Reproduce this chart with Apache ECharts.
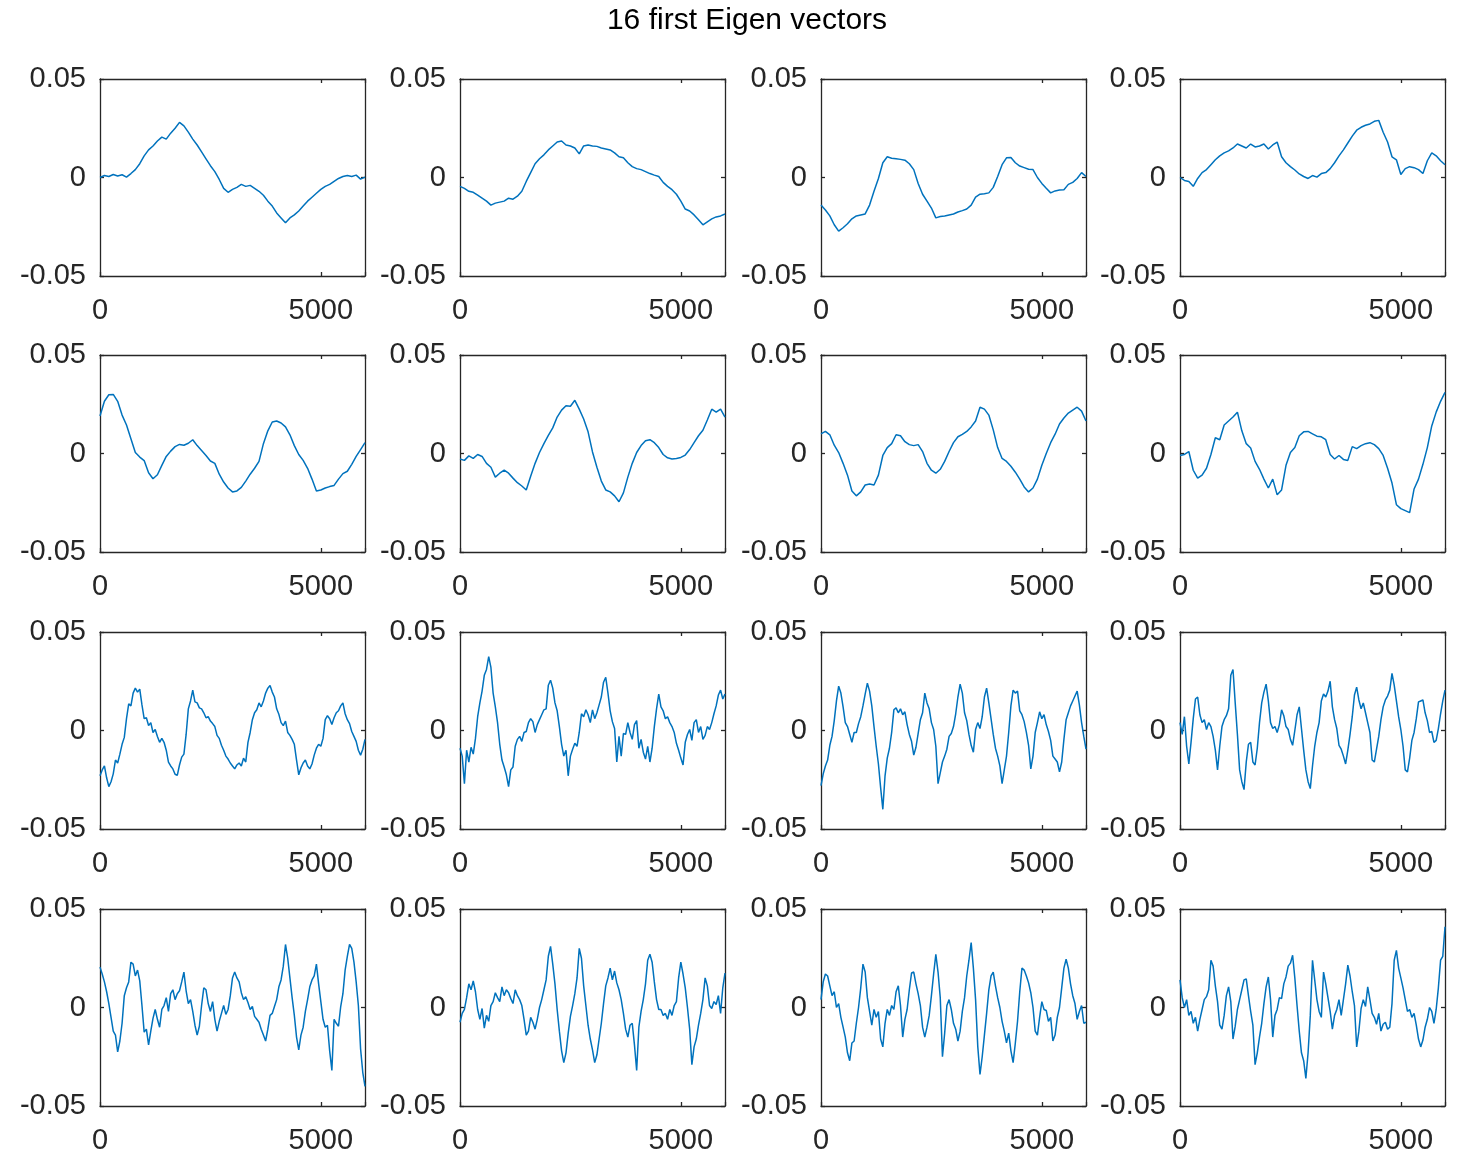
<!DOCTYPE html>
<html>
<head>
<meta charset="utf-8">
<title>16 first Eigen vectors</title>
<script src="https://cdn.jsdelivr.net/npm/echarts@6/dist/echarts.min.js"></script>
<style>
  html, body { margin: 0; padding: 0; background: #ffffff; }
  #chart { width: 1458px; height: 1155px; }
</style>
</head>
<body>
<div id="chart"></div>
<script>
// Axis ranges and tick labels shared by all panels
const xMax = 6000;
const xTickValues = [0, 5000];
const yTickValues = [-0.05, 0, 0.05];

// Eigen vectors 1-8, sampled every 100 samples (0..6000)
const eig1 = [
  0.0000, 0.0010, 0.0005, 0.0015, 0.0008, 0.0014, 0.0002, 0.0020, 0.0040, 0.0070,
  0.0110, 0.0140, 0.0160, 0.0185, 0.0205, 0.0195, 0.0225, 0.0250, 0.0280, 0.0262,
  0.0230, 0.0195, 0.0165, 0.0130, 0.0095, 0.0060, 0.0030, -0.0010, -0.0055, -0.0075,
  -0.0060, -0.0050, -0.0035, -0.0045, -0.0040, -0.0055, -0.0070, -0.0090, -0.0120, -0.0145,
  -0.0180, -0.0205, -0.0230, -0.0205, -0.0190, -0.0170, -0.0145, -0.0120, -0.0100, -0.0080,
  -0.0060, -0.0045, -0.0035, -0.0020, -0.0005, 0.0005, 0.0010, 0.0005, 0.0012, -0.0008,
  0.0002
];
const eig2 = [
  -0.0045, -0.0055, -0.0070, -0.0075, -0.0090, -0.0105, -0.0120, -0.0140, -0.0130, -0.0125,
  -0.0120, -0.0105, -0.0110, -0.0095, -0.0070, -0.0020, 0.0025, 0.0070, 0.0095, 0.0115,
  0.0140, 0.0160, 0.0180, 0.0185, 0.0165, 0.0160, 0.0150, 0.0120, 0.0160, 0.0165,
  0.0160, 0.0158, 0.0150, 0.0145, 0.0140, 0.0125, 0.0105, 0.0100, 0.0075, 0.0055,
  0.0045, 0.0040, 0.0030, 0.0020, 0.0012, 0.0005, -0.0025, -0.0045, -0.0062, -0.0085,
  -0.0120, -0.0160, -0.0170, -0.0190, -0.0215, -0.0240, -0.0225, -0.0210, -0.0200, -0.0195,
  -0.0185
];
const eig3 = [
  -0.0140, -0.0165, -0.0195, -0.0240, -0.0272, -0.0255, -0.0235, -0.0210, -0.0195, -0.0190,
  -0.0185, -0.0140, -0.0070, -0.0005, 0.0075, 0.0105, 0.0098, 0.0095, 0.0092, 0.0088,
  0.0070, 0.0040, -0.0030, -0.0085, -0.0120, -0.0155, -0.0205, -0.0198, -0.0195, -0.0190,
  -0.0185, -0.0175, -0.0168, -0.0160, -0.0140, -0.0100, -0.0085, -0.0082, -0.0078, -0.0050,
  0.0005, 0.0065, 0.0100, 0.0102, 0.0075, 0.0058, 0.0050, 0.0042, 0.0040, 0.0000,
  -0.0030, -0.0055, -0.0078, -0.0068, -0.0064, -0.0062, -0.0035, -0.0025, -0.0005, 0.0025,
  0.0005
];
const eig4 = [
  0.0000, -0.0015, -0.0020, -0.0045, -0.0005, 0.0025, 0.0040, 0.0065, 0.0090, 0.0110,
  0.0125, 0.0135, 0.0150, 0.0170, 0.0160, 0.0150, 0.0170, 0.0155, 0.0160, 0.0170,
  0.0145, 0.0165, 0.0180, 0.0105, 0.0075, 0.0055, 0.0038, 0.0018, 0.0005, -0.0005,
  0.0010, 0.0002, 0.0020, 0.0025, 0.0045, 0.0075, 0.0110, 0.0140, 0.0175, 0.0210,
  0.0240, 0.0255, 0.0265, 0.0272, 0.0285, 0.0290, 0.0230, 0.0180, 0.0105, 0.0090,
  0.0015, 0.0045, 0.0055, 0.0050, 0.0040, 0.0020, 0.0085, 0.0125, 0.0110, 0.0085,
  0.0065
];
const eig5 = [
  0.0190, 0.0265, 0.0298, 0.0300, 0.0265, 0.0195, 0.0145, 0.0075, 0.0005, -0.0018,
  -0.0036, -0.0098, -0.0128, -0.0108, -0.0060, -0.0015, 0.0012, 0.0035, 0.0046, 0.0042,
  0.0052, 0.0070, 0.0040, 0.0015, -0.0010, -0.0038, -0.0050, -0.0105, -0.0145, -0.0175,
  -0.0195, -0.0190, -0.0172, -0.0140, -0.0105, -0.0075, -0.0040, 0.0050, 0.0115, 0.0160,
  0.0165, 0.0155, 0.0135, 0.0095, 0.0040, -0.0005, -0.0035, -0.0075, -0.0130, -0.0190,
  -0.0185, -0.0175, -0.0168, -0.0162, -0.0130, -0.0102, -0.0090, -0.0055, -0.0015, 0.0020,
  0.0055
];
const eig6 = [
  -0.0028, -0.0035, -0.0012, -0.0025, -0.0005, -0.0015, -0.0050, -0.0070, -0.0120, -0.0100,
  -0.0085, -0.0100, -0.0125, -0.0148, -0.0165, -0.0185, -0.0115, -0.0050, 0.0005, 0.0050,
  0.0092, 0.0130, 0.0185, 0.0220, 0.0242, 0.0240, 0.0270, 0.0225, 0.0175, 0.0110,
  0.0008, -0.0070, -0.0140, -0.0185, -0.0195, -0.0215, -0.0245, -0.0200, -0.0120, -0.0050,
  0.0005, 0.0040, 0.0065, 0.0070, 0.0055, 0.0030, -0.0005, -0.0022, -0.0028, -0.0025,
  -0.0020, -0.0008, 0.0020, 0.0055, 0.0090, 0.0118, 0.0170, 0.0225, 0.0210, 0.0225,
  0.0185
];
const eig7 = [
  0.0100, 0.0112, 0.0095, 0.0042, 0.0005, -0.0050, -0.0110, -0.0190, -0.0215, -0.0195,
  -0.0160, -0.0155, -0.0160, -0.0110, -0.0010, 0.0030, 0.0050, 0.0095, 0.0090, 0.0060,
  0.0045, 0.0040, 0.0045, 0.0010, -0.0050, -0.0085, -0.0100, -0.0080, -0.0040, 0.0010,
  0.0055, 0.0085, 0.0097, 0.0112, 0.0135, 0.0165, 0.0235, 0.0225, 0.0195, 0.0120,
  0.0030, -0.0025, -0.0040, -0.0065, -0.0095, -0.0130, -0.0170, -0.0195, -0.0175, -0.0130,
  -0.0060, 0.0000, 0.0055, 0.0098, 0.0150, 0.0180, 0.0205, 0.0220, 0.0235, 0.0215,
  0.0165
];
const eig8 = [
  -0.0010, -0.0005, 0.0010, -0.0085, -0.0125, -0.0110, -0.0075, -0.0005, 0.0080, 0.0070,
  0.0145, 0.0165, 0.0185, 0.0210, 0.0115, 0.0050, 0.0028, -0.0040, -0.0080, -0.0130,
  -0.0175, -0.0130, -0.0210, -0.0185, -0.0060, 0.0005, 0.0030, 0.0090, 0.0110, 0.0112,
  0.0100, 0.0088, 0.0085, 0.0070, -0.0005, -0.0028, -0.0010, -0.0030, -0.0035, 0.0035,
  0.0025, 0.0040, 0.0050, 0.0055, 0.0045, 0.0025, -0.0010, -0.0075, -0.0150, -0.0260,
  -0.0280, -0.0290, -0.0300, -0.0180, -0.0130, -0.0055, 0.0030, 0.0140, 0.0210, 0.0265,
  0.0310
];

// Eigen vectors 9-16, sampled every 50 samples (0..6000)
const eig9 = [
  -0.0230, -0.0200, -0.0180, -0.0240, -0.0285, -0.0260, -0.0220, -0.0150, -0.0165, -0.0120,
  -0.0070, -0.0035, 0.0060, 0.0135, 0.0125, 0.0190, 0.0215, 0.0195, 0.0210, 0.0130,
  0.0060, 0.0065, 0.0025, 0.0040, -0.0010, 0.0005, -0.0030, -0.0060, -0.0040, -0.0060,
  -0.0100, -0.0160, -0.0180, -0.0195, -0.0222, -0.0228, -0.0175, -0.0135, -0.0120, -0.0020,
  0.0110, 0.0150, 0.0205, 0.0145, 0.0140, 0.0115, 0.0110, 0.0090, 0.0065, 0.0070,
  0.0048, 0.0035, 0.0020, -0.0025, -0.0040, -0.0075, -0.0100, -0.0130, -0.0145, -0.0165,
  -0.0180, -0.0195, -0.0175, -0.0165, -0.0180, -0.0140, -0.0160, -0.0060, -0.0010, 0.0055,
  0.0090, 0.0105, 0.0140, 0.0120, 0.0150, 0.0190, 0.0215, 0.0228, 0.0195, 0.0170,
  0.0110, 0.0082, 0.0040, 0.0025, 0.0048, -0.0010, -0.0025, -0.0045, -0.0070, -0.0150,
  -0.0225, -0.0190, -0.0165, -0.0150, -0.0180, -0.0195, -0.0170, -0.0125, -0.0090, -0.0070,
  -0.0080, -0.0040, 0.0055, 0.0075, 0.0060, 0.0030, 0.0065, 0.0090, 0.0100, 0.0125,
  0.0140, 0.0085, 0.0055, 0.0035, -0.0005, -0.0030, -0.0055, -0.0100, -0.0125, -0.0095,
  -0.0045
];
const eig10 = [
  -0.0090, -0.0130, -0.0270, -0.0100, -0.0160, -0.0085, -0.0120, -0.0040, 0.0070, 0.0140,
  0.0200, 0.0280, 0.0310, 0.0375, 0.0320, 0.0190, 0.0120, 0.0040, -0.0070, -0.0150,
  -0.0185, -0.0225, -0.0285, -0.0200, -0.0185, -0.0080, -0.0045, -0.0030, -0.0055, -0.0010,
  -0.0005, 0.0040, 0.0060, 0.0045, -0.0010, 0.0030, 0.0055, 0.0080, 0.0105, 0.0110,
  0.0230, 0.0255, 0.0215, 0.0140, 0.0100, 0.0020, -0.0070, -0.0130, -0.0100, -0.0230,
  -0.0130, -0.0095, -0.0065, -0.0080, -0.0010, 0.0085, 0.0070, 0.0105, 0.0080, 0.0040,
  0.0105, 0.0060, 0.0090, 0.0130, 0.0170, 0.0245, 0.0270, 0.0190, 0.0100, 0.0045,
  0.0010, -0.0160, -0.0030, -0.0130, -0.0015, -0.0020, 0.0040, -0.0010, -0.0045, 0.0030,
  0.0050, -0.0090, -0.0045, -0.0110, -0.0145, -0.0080, -0.0160, -0.0090, 0.0020, 0.0110,
  0.0185, 0.0120, 0.0100, 0.0060, 0.0070, 0.0040, 0.0020, -0.0010, -0.0065, -0.0100,
  -0.0140, -0.0175, -0.0060, -0.0020, 0.0005, -0.0050, 0.0040, 0.0055, -0.0010, 0.0020,
  -0.0045, -0.0025, 0.0020, 0.0005, 0.0040, 0.0085, 0.0125, 0.0180, 0.0205, 0.0160,
  0.0185
];
const eig11 = [
  -0.0280, -0.0220, -0.0180, -0.0150, -0.0075, -0.0030, 0.0050, 0.0150, 0.0225, 0.0190,
  0.0120, 0.0040, 0.0020, -0.0020, -0.0060, -0.0010, -0.0010, 0.0035, 0.0070, 0.0125,
  0.0185, 0.0240, 0.0200, 0.0125, 0.0020, -0.0080, -0.0170, -0.0290, -0.0400, -0.0230,
  -0.0140, -0.0090, -0.0010, 0.0105, 0.0115, 0.0090, 0.0110, 0.0080, 0.0095, 0.0030,
  -0.0020, -0.0055, -0.0125, -0.0085, -0.0015, 0.0055, 0.0090, 0.0190, 0.0140, 0.0110,
  0.0040, 0.0005, -0.0080, -0.0270, -0.0215, -0.0160, -0.0130, -0.0095, -0.0030, -0.0015,
  0.0020, 0.0085, 0.0170, 0.0235, 0.0190, 0.0090, 0.0050, -0.0020, -0.0075, -0.0110,
  0.0005, 0.0040, 0.0010, 0.0070, 0.0170, 0.0215, 0.0140, 0.0060, -0.0020, -0.0090,
  -0.0130, -0.0180, -0.0270, -0.0200, -0.0130, -0.0010, 0.0125, 0.0205, 0.0190, 0.0200,
  0.0100, 0.0080, 0.0045, -0.0010, -0.0075, -0.0195, -0.0130, -0.0010, 0.0040, 0.0095,
  0.0060, 0.0080, 0.0030, -0.0005, -0.0050, -0.0130, -0.0145, -0.0160, -0.0210, -0.0160,
  -0.0045, 0.0055, 0.0090, 0.0125, 0.0150, 0.0175, 0.0200, 0.0130, 0.0040, -0.0030,
  -0.0095
];
const eig12 = [
  0.0040, -0.0020, 0.0070, -0.0080, -0.0170, -0.0060, 0.0060, 0.0160, 0.0170, 0.0080,
  0.0040, 0.0055, 0.0005, 0.0040, 0.0020, -0.0030, -0.0100, -0.0200, -0.0080, 0.0020,
  0.0055, 0.0075, 0.0110, 0.0280, 0.0310, 0.0140, -0.0020, -0.0200, -0.0260, -0.0300,
  -0.0160, -0.0070, -0.0060, -0.0160, -0.0175, -0.0090, 0.0040, 0.0140, 0.0195, 0.0235,
  0.0150, 0.0040, 0.0010, 0.0020, -0.0010, 0.0030, 0.0105, 0.0075, 0.0020, 0.0005,
  -0.0045, -0.0075, 0.0000, 0.0080, 0.0120, 0.0010, -0.0100, -0.0200, -0.0260, -0.0295,
  -0.0180, -0.0080, -0.0010, 0.0040, 0.0150, 0.0185, 0.0170, 0.0200, 0.0250, 0.0120,
  0.0055, 0.0010, -0.0075, -0.0095, -0.0130, -0.0170, -0.0100, -0.0020, 0.0070, 0.0180,
  0.0220, 0.0155, 0.0110, 0.0140, 0.0090, 0.0040, -0.0010, -0.0150, -0.0160, -0.0095,
  -0.0030, 0.0055, 0.0120, 0.0155, 0.0175, 0.0205, 0.0290, 0.0230, 0.0150, 0.0070,
  0.0005, -0.0080, -0.0200, -0.0210, -0.0140, -0.0050, -0.0010, 0.0060, 0.0145, 0.0150,
  0.0155, 0.0090, 0.0050, -0.0010, -0.0005, -0.0060, -0.0050, 0.0010, 0.0085, 0.0150,
  0.0205
];
const eig13 = [
  0.0205, 0.0170, 0.0130, 0.0080, 0.0020, -0.0050, -0.0120, -0.0140, -0.0225, -0.0170,
  -0.0080, 0.0060, 0.0100, 0.0130, 0.0230, 0.0220, 0.0160, 0.0190, 0.0135, 0.0010,
  -0.0125, -0.0110, -0.0190, -0.0120, -0.0055, -0.0010, -0.0060, -0.0100, -0.0010, 0.0010,
  0.0050, -0.0020, 0.0070, 0.0090, 0.0040, 0.0070, 0.0085, 0.0130, 0.0180, 0.0085,
  0.0020, 0.0040, -0.0020, -0.0090, -0.0140, -0.0095, 0.0010, 0.0100, 0.0090, 0.0020,
  -0.0020, 0.0030, -0.0060, -0.0120, -0.0070, -0.0030, 0.0010, -0.0035, -0.0010, 0.0060,
  0.0150, 0.0180, 0.0150, 0.0130, 0.0075, 0.0040, 0.0055, 0.0025, -0.0010, 0.0005,
  -0.0045, -0.0060, -0.0075, -0.0110, -0.0140, -0.0170, -0.0110, -0.0040, -0.0030, 0.0005,
  0.0040, 0.0105, 0.0140, 0.0210, 0.0320, 0.0250, 0.0150, 0.0050, -0.0040, -0.0150,
  -0.0215, -0.0140, -0.0100, -0.0020, 0.0040, 0.0105, 0.0140, 0.0160, 0.0220, 0.0120,
  0.0030, -0.0060, -0.0100, -0.0090, -0.0220, -0.0320, -0.0060, -0.0080, -0.0095, 0.0005,
  0.0070, 0.0190, 0.0260, 0.0320, 0.0300, 0.0230, 0.0130, 0.0010, -0.0210, -0.0330,
  -0.0400
];
const eig14 = [
  -0.0075, -0.0030, -0.0010, 0.0050, 0.0120, 0.0090, 0.0135, 0.0080, -0.0010, -0.0060,
  -0.0005, -0.0105, -0.0040, -0.0070, 0.0010, 0.0030, 0.0075, 0.0050, 0.0030, 0.0105,
  0.0060, 0.0090, 0.0075, 0.0045, 0.0020, 0.0090, 0.0060, 0.0040, 0.0010, -0.0060,
  -0.0140, -0.0120, -0.0050, -0.0075, -0.0110, -0.0060, 0.0000, 0.0040, 0.0090, 0.0140,
  0.0260, 0.0310, 0.0220, 0.0120, -0.0010, -0.0120, -0.0220, -0.0280, -0.0230, -0.0130,
  -0.0045, 0.0010, 0.0070, 0.0150, 0.0300, 0.0250, 0.0110, 0.0010, -0.0090, -0.0160,
  -0.0215, -0.0280, -0.0240, -0.0160, -0.0080, 0.0020, 0.0110, 0.0150, 0.0200, 0.0140,
  0.0185, 0.0125, 0.0090, 0.0040, -0.0030, -0.0110, -0.0150, -0.0090, -0.0080, -0.0190,
  -0.0320, -0.0100, -0.0020, 0.0040, 0.0120, 0.0240, 0.0270, 0.0230, 0.0130, 0.0040,
  -0.0010, -0.0010, -0.0040, -0.0030, -0.0060, -0.0010, -0.0040, 0.0010, 0.0030, 0.0150,
  0.0230, 0.0170, 0.0100, 0.0000, -0.0110, -0.0290, -0.0200, -0.0160, -0.0090, -0.0030,
  0.0040, 0.0150, 0.0110, 0.0010, -0.0005, 0.0030, 0.0015, 0.0060, -0.0030, 0.0100,
  0.0175
];
const eig15 = [
  0.0040, 0.0130, 0.0170, 0.0160, 0.0110, 0.0060, 0.0080, 0.0000, 0.0020, -0.0050,
  -0.0100, -0.0150, -0.0230, -0.0270, -0.0180, -0.0170, -0.0080, 0.0000, 0.0100, 0.0220,
  0.0180, 0.0050, -0.0020, -0.0090, -0.0010, -0.0050, -0.0020, -0.0160, -0.0200, -0.0080,
  -0.0010, -0.0040, 0.0010, -0.0010, 0.0080, 0.0110, 0.0010, -0.0150, -0.0060, -0.0010,
  0.0090, 0.0175, 0.0180, 0.0120, 0.0070, 0.0010, -0.0100, -0.0150, -0.0100, -0.0040,
  0.0060, 0.0170, 0.0270, 0.0180, 0.0050, -0.0250, -0.0130, 0.0010, 0.0040, -0.0010,
  -0.0080, -0.0110, -0.0170, -0.0120, -0.0020, 0.0050, 0.0160, 0.0240, 0.0330, 0.0200,
  0.0040, -0.0200, -0.0340, -0.0250, -0.0140, -0.0030, 0.0090, 0.0160, 0.0180, 0.0110,
  0.0050, 0.0000, -0.0070, -0.0120, -0.0180, -0.0130, -0.0220, -0.0280, -0.0180, -0.0070,
  0.0080, 0.0200, 0.0190, 0.0160, 0.0125, 0.0075, 0.0000, -0.0120, -0.0140, -0.0050,
  0.0030, -0.0010, -0.0015, -0.0070, -0.0050, -0.0170, -0.0140, -0.0050, 0.0000, 0.0100,
  0.0200, 0.0245, 0.0200, 0.0120, 0.0060, 0.0020, -0.0060, -0.0020, 0.0010, -0.0080,
  -0.0075
];
const eig16 = [
  0.0140, 0.0050, 0.0000, 0.0040, -0.0040, -0.0020, -0.0080, -0.0050, -0.0120, -0.0060,
  -0.0010, 0.0040, 0.0055, 0.0090, 0.0240, 0.0210, 0.0110, 0.0030, -0.0090, -0.0110,
  -0.0040, 0.0060, 0.0105, 0.0030, -0.0160, -0.0095, -0.0010, 0.0040, 0.0090, 0.0140,
  0.0145, 0.0060, -0.0020, -0.0090, -0.0290, -0.0230, -0.0150, -0.0080, 0.0020, 0.0105,
  0.0155, 0.0040, -0.0150, -0.0040, -0.0010, 0.0050, 0.0045, 0.0120, 0.0155, 0.0210,
  0.0225, 0.0265, 0.0150, 0.0010, -0.0120, -0.0230, -0.0270, -0.0360, -0.0230, -0.0040,
  0.0240, 0.0140, 0.0040, -0.0020, -0.0050, 0.0180, 0.0120, 0.0050, -0.0020, -0.0110,
  -0.0040, -0.0010, 0.0040, -0.0040, 0.0040, 0.0120, 0.0215, 0.0160, 0.0080, 0.0010,
  -0.0200, -0.0120, -0.0005, 0.0040, 0.0005, 0.0105, 0.0040, -0.0030, -0.0050, -0.0085,
  -0.0030, -0.0120, -0.0085, -0.0075, -0.0110, -0.0100, 0.0020, 0.0240, 0.0290, 0.0200,
  0.0150, 0.0100, 0.0040, -0.0020, -0.0010, -0.0050, -0.0030, -0.0090, -0.0160, -0.0200,
  -0.0165, -0.0100, -0.0060, 0.0000, -0.0020, -0.0080, -0.0010, 0.0100, 0.0240, 0.0260,
  0.0410
];

const vectors = [eig1, eig2, eig3, eig4, eig5, eig6, eig7, eig8,
                 eig9, eig10, eig11, eig12, eig13, eig14, eig15, eig16];

// 4 x 4 panel layout (pixels)
const colLeft = [100, 460, 821, 1180];
const rowTop = [79, 355, 632, 909];
const boxW = 265;
const boxH = 197;

const ink = '#262626';
const lineBlue = '#0072BD';
const fontFamily = '"Liberation Sans", Arial, Helvetica, sans-serif';
const labelSize = 29;
const frameWidth = 1.3;

function formatX(v) {
  return xTickValues.indexOf(v) >= 0 ? String(v) : '';
}
function formatY(v) {
  if (Math.abs(v) < 1e-9) return '0';
  const s = Math.abs(v).toFixed(2);
  return v < 0 ? '-' + s : s;
}

const grids = [], xAxes = [], yAxes = [], series = [];

vectors.forEach((vals, k) => {
  const r = Math.floor(k / 4), c = k % 4;
  grids.push({ left: colLeft[c], top: rowTop[r], width: boxW, height: boxH, containLabel: false });

  const common = {
    gridIndex: k,
    type: 'value',
    axisLine: { show: true, onZero: false, lineStyle: { color: ink, width: frameWidth } },
    axisTick: { show: true, inside: true, length: 4, lineStyle: { color: ink, width: frameWidth } },
    splitLine: { show: false }
  };

  // bottom (labelled) and top (mirror) x axes
  xAxes.push(Object.assign({}, common, {
    position: 'bottom', min: 0, max: xMax, interval: 5000,
    axisLabel: { show: true, margin: 20, fontSize: labelSize, color: ink, fontFamily, formatter: formatX,
                 showMaxLabel: true, showMinLabel: true }
  }));
  xAxes.push(Object.assign({}, common, {
    position: 'top', min: 0, max: xMax, interval: 5000,
    axisLabel: { show: false }
  }));

  // left (labelled) and right (mirror) y axes
  yAxes.push(Object.assign({}, common, {
    position: 'left', min: -0.05, max: 0.05, interval: 0.05,
    axisLabel: { show: true, margin: 14, fontSize: labelSize, color: ink, fontFamily, formatter: formatY,
                 padding: [4, 0, 0, 0], showMaxLabel: true, showMinLabel: true }
  }));
  yAxes.push(Object.assign({}, common, {
    position: 'right', min: -0.05, max: 0.05, interval: 0.05,
    axisLabel: { show: false }
  }));

  const step = xMax / (vals.length - 1);
  series.push({
    type: 'line',
    xAxisIndex: 2 * k,
    yAxisIndex: 2 * k,
    data: vals.map((v, i) => [i * step, v]),
    showSymbol: false,
    symbol: 'none',
    lineStyle: { color: lineBlue, width: 1.5 },
    emphasis: { disabled: true },
    animation: false,
    clip: true
  });
});

const chart = echarts.init(document.getElementById('chart'), null, { renderer: 'canvas' });
chart.setOption({
  backgroundColor: '#ffffff',
  animation: false,
  graphic: [{
    type: 'text',
    x: 747,
    y: 21,
    style: {
      text: '16 first Eigen vectors',
      fill: '#000000',
      font: '30px ' + fontFamily,
      align: 'center',
      verticalAlign: 'middle'
    }
  }],
  grid: grids,
  xAxis: xAxes,
  yAxis: yAxes,
  series: series
});
</script>
</body>
</html>
